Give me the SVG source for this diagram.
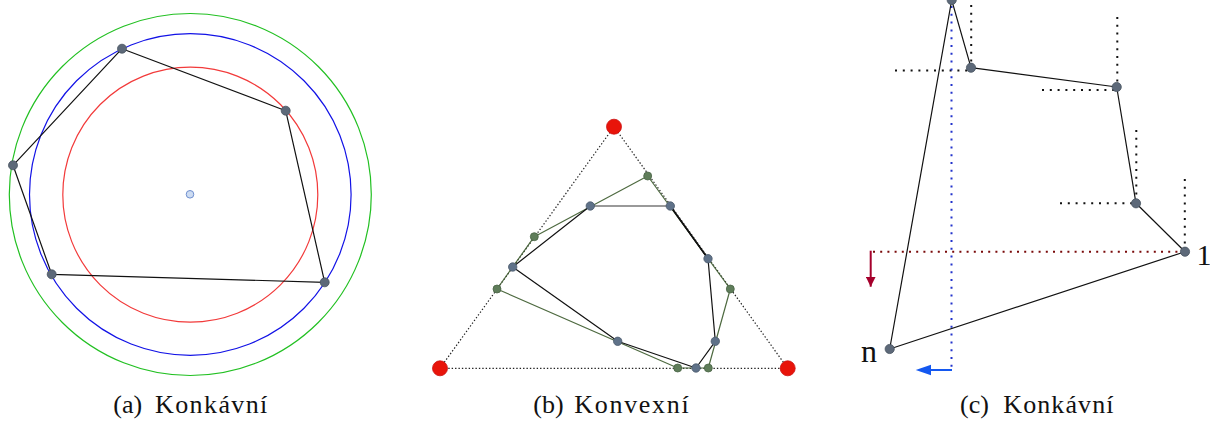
<svg xmlns="http://www.w3.org/2000/svg" width="1210" height="421" viewBox="0 0 1210 421">
<defs>
<style>
.bg{fill:#ffffff}
.poly{fill:none;stroke:#111;stroke-width:1.2;stroke-linejoin:round}
.gpoly{fill:none;stroke:#4e6a40;stroke-width:1.2;stroke-linejoin:round}
.pt{fill:#5d6979;stroke:#48535f;stroke-width:0.8}
.bpt{fill:#5f7289;stroke:#4b5a6c;stroke-width:0.8}
.gpt{fill:#5f7d5a;stroke:#4a6446;stroke-width:0.8}
.rpt{fill:#e8140a;stroke:#cc1010;stroke-width:0.8}
.cpt{fill:#cddcf2;stroke:#6f8fcf;stroke-width:1}
.tri{fill:none;stroke:#222;stroke-width:1.2;stroke-dasharray:1.4 2}
.dk{fill:none;stroke:#111;stroke-width:2;stroke-dasharray:2 5.8}
.db{fill:none;stroke:#2233cc;stroke-width:2;stroke-dasharray:2 5.8}
.dr{fill:none;stroke:#7a0a0a;stroke-width:2;stroke-dasharray:2 5.2}
.cap{font-family:"Liberation Serif","Times New Roman",serif;font-size:26px;fill:#111}
.lab{font-family:"Liberation Serif","Times New Roman",serif;fill:#111}
</style>
<marker id="arrR" viewBox="0 0 10 10" refX="10" refY="5" markerWidth="10" markerHeight="10" markerUnits="userSpaceOnUse" orient="auto"><path d="M0,0 L10,5 L0,10 Z" fill="#a5002c"/></marker>
</defs>
<rect class="bg" x="0" y="0" width="1210" height="421"/>

<!-- Panel (a) -->
<g id="panel-a">
  <g id="circles-a">
    <circle cx="190.3" cy="194.5" r="181" fill="none" stroke="#22c022" stroke-width="1.2"/>
    <circle cx="190.3" cy="194.5" r="160.8" fill="none" stroke="#1212e6" stroke-width="1.2"/>
    <circle cx="190.3" cy="194.7" r="127.5" fill="none" stroke="#f23a3a" stroke-width="1.2"/>
  </g>
  <g id="connectors-a">
    <polygon class="poly" points="122,48.7 285.7,110.7 324.7,282.3 51.7,274.3 13,165.3"/>
  </g>
  <g id="a-center"><circle class="cpt" cx="190" cy="194.3" r="3.8"/></g>
  <g id="a-p1"><circle class="pt" cx="122" cy="48.7" r="4.5"/></g>
  <g id="a-p2"><circle class="pt" cx="285.7" cy="110.7" r="4.5"/></g>
  <g id="a-p3"><circle class="pt" cx="324.7" cy="282.3" r="4.5"/></g>
  <g id="a-p4"><circle class="pt" cx="51.7" cy="274.3" r="4.5"/></g>
  <g id="a-p5"><circle class="pt" cx="13" cy="165.3" r="4.5"/></g>
  <text class="cap" y="413"><tspan x="113.3">(a)</tspan><tspan x="155" letter-spacing="1.4">Konkávní</tspan></text>
</g>

<!-- Panel (b) -->
<g id="panel-b">
  <g id="connectors-b">
    <polygon class="tri" points="614,126.7 440,368.3 787.7,368.3"/>
    <polygon class="gpoly" points="647.7,176 534.3,236.7 497,289 677.7,368 708.3,368 730.3,289"/>
    <line x1="590.3" y1="206" x2="670.3" y2="206" stroke="#777" stroke-width="1.6"/>
    <polyline class="poly" points="670.3,206 708,258.7 715.3,341.3 696,368 617.7,341.3 512.7,267 590.3,206"/>
    <line x1="670.3" y1="206" x2="708" y2="258.7" stroke="#111" stroke-width="1.6"/>
  </g>
  <g id="b-r1"><circle class="rpt" cx="614" cy="126.7" r="7.5"/></g>
  <g id="b-r2"><circle class="rpt" cx="440" cy="368.3" r="7.5"/></g>
  <g id="b-r3"><circle class="rpt" cx="787.7" cy="368.3" r="7.5"/></g>
  <g id="b-g1"><circle class="gpt" cx="647.7" cy="176" r="4"/></g>
  <g id="b-g2"><circle class="gpt" cx="534.3" cy="236.7" r="4"/></g>
  <g id="b-g3"><circle class="gpt" cx="497" cy="289" r="4"/></g>
  <g id="b-g4"><circle class="gpt" cx="730.3" cy="289" r="4"/></g>
  <g id="b-g5"><circle class="gpt" cx="677.7" cy="368" r="4"/></g>
  <g id="b-g6"><circle class="gpt" cx="708.3" cy="368" r="4"/></g>
  <g id="b-b1"><circle class="bpt" cx="590.3" cy="206" r="4.2"/></g>
  <g id="b-b2"><circle class="bpt" cx="670.3" cy="206" r="4.2"/></g>
  <g id="b-b3"><circle class="bpt" cx="708" cy="258.7" r="4.2"/></g>
  <g id="b-b4"><circle class="bpt" cx="512.7" cy="267" r="4.2"/></g>
  <g id="b-b5"><circle class="bpt" cx="617.7" cy="341.3" r="4.2"/></g>
  <g id="b-b6"><circle class="bpt" cx="715.3" cy="341.3" r="4.2"/></g>
  <g id="b-b7"><circle class="bpt" cx="696" cy="368" r="4.2"/></g>
  <text class="cap" y="413"><tspan x="533.3">(b)</tspan><tspan x="574.3" letter-spacing="1.7">Konvexní</tspan></text>
</g>

<!-- Panel (c) -->
<g id="panel-c">
  <g id="connectors-c">
    <line class="dk" x1="971.2" y1="5" x2="971.2" y2="66"/>
    <line class="dk" x1="895" y1="70.5" x2="968" y2="70.5"/>
    <line class="dk" x1="1117.3" y1="17" x2="1117.3" y2="84"/>
    <line class="dk" x1="1042" y1="90" x2="1114" y2="90"/>
    <line class="dk" x1="1136.3" y1="130" x2="1136.3" y2="200"/>
    <line class="dk" x1="1060" y1="203.3" x2="1132" y2="203.3"/>
    <line class="dk" x1="1184.8" y1="179" x2="1184.8" y2="248"/>
    <line class="dr" x1="873" y1="251.7" x2="1182" y2="251.7"/>
    <line class="db" x1="951.5" y1="6" x2="951.5" y2="368"/>
    <line x1="870.7" y1="250.7" x2="870.7" y2="286.7" stroke="#a5002c" stroke-width="2" marker-end="url(#arrR)"/>
    <line x1="952" y1="370" x2="930" y2="370" stroke="#1458f0" stroke-width="2"/>
    <path d="M915.7,370 L931,364.8 L931,375.2 Z" fill="#1458f0"/>
    <polygon class="poly" points="951.7,0 971,67.7 1116.7,87 1136,203.3 1185,251.7 889.7,349"/>
  </g>
  <g id="c-top"><circle class="pt" cx="951.7" cy="0" r="4.6"/></g>
  <g id="c-p2"><circle class="pt" cx="971" cy="67.7" r="4.6"/></g>
  <g id="c-p3"><circle class="pt" cx="1116.7" cy="87" r="4.6"/></g>
  <g id="c-p4"><circle class="pt" cx="1136" cy="203.3" r="4.6"/></g>
  <g id="c-p1"><circle class="pt" cx="1185" cy="251.7" r="4.6"/><text class="lab" x="1196.5" y="264.7" font-size="30">1</text></g>
  <g id="c-pn"><circle class="pt" cx="889.7" cy="349" r="4.6"/><text class="lab" x="861" y="361.7" font-size="32">n</text></g>
  <text class="cap" y="413"><tspan x="960">(c)</tspan><tspan x="1003.3" letter-spacing="1.1">Konkávní</tspan></text>
</g>
</svg>
